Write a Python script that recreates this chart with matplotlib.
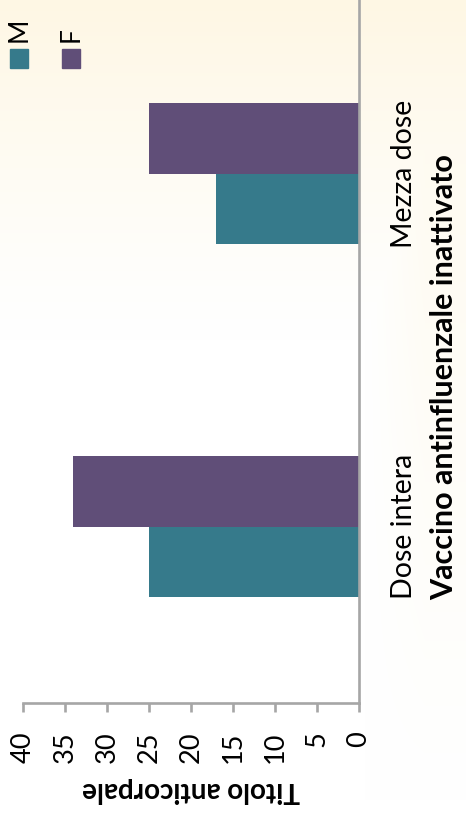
import numpy as np
import matplotlib
matplotlib.use("Agg")
import matplotlib.pyplot as plt
from matplotlib.patches import Rectangle

# Data
categories = ["Dose intera", "Mezza dose"]
series_names = ["M", "F"]
values_m = [25, 17]
values_f = [34, 25]
value_ticks = [0, 5, 10, 15, 20, 25, 30, 35, 40]
value_axis_title = "Titolo anticorpale"
category_axis_title = "Vaccino antinfluenzale inattivato"

colors = {"M": "#367a8b", "F": "#604e78"}
axis_grey = "#a6a6a6"
font = ["Lato", "DejaVu Sans"]

W, H, DPI = 466, 817, 100
fig = plt.figure(figsize=(W / DPI, H / DPI), dpi=DPI)

def fx(px):
    return px / W

def fy(py):
    return 1 - py / H

# Cream-to-white background wash
bg = fig.add_axes([0, 0, 1, 1], zorder=-10)
yy, xx = np.mgrid[0:H, 0:W]
t = np.clip(1 - yy / 340.0, 0, 1) ** 1.2
t = np.maximum(t, 0.55 * np.clip((xx - 365) / 60.0, 0, 1) * np.clip(1 - (yy - 100) / 700.0, 0, 1))
cream = np.array([254, 247, 228]) / 255.0
white = np.array([1.0, 1.0, 1.0])
img = white[None, None, :] * (1 - t[..., None]) + cream[None, None, :] * t[..., None]
bg.imshow(img, aspect="auto", extent=[0, 1, 0, 1], interpolation="bilinear")
bg.axis("off")

# Plot area: value axis runs right-to-left along the bottom, categories bottom-to-top
left_px, right_px, bottom_px, top_px = 23, 359, 703, -3
ax = fig.add_axes([fx(left_px), fy(bottom_px), fx(right_px - left_px), (bottom_px - top_px) / H])
ax.set_facecolor("none")

pos = np.arange(len(categories))
bar_h = 0.2
ax.barh(pos - bar_h / 2, values_m, height=bar_h, color=colors["M"], label=series_names[0], zorder=2)
ax.barh(pos + bar_h / 2, values_f, height=bar_h, color=colors["F"], label=series_names[1], zorder=2)

ax.set_xlim(40, 0)
ax.set_ylim(-0.5, len(categories) - 0.5)

for side in ["left", "top"]:
    ax.spines[side].set_visible(False)
for side in ["bottom", "right"]:
    ax.spines[side].set_color(axis_grey)
    ax.spines[side].set_linewidth(1.9)
    ax.spines[side].set_zorder(3)

ax.set_xticks(value_ticks)
ax.set_xticklabels([str(v) for v in value_ticks], rotation=90, family=font, fontsize=19.5)
ax.tick_params(axis="x", direction="out", length=6.5, width=1.9, color=axis_grey, pad=14)

ax.yaxis.tick_right()
ax.set_yticks(pos)
ax.set_yticklabels(categories, rotation=90, va="center", family=font, fontsize=20.5)
ax.tick_params(axis="y", length=0, pad=23)

ax.set_xlabel(value_axis_title, rotation=180, family=font, fontsize=20, fontweight="bold")
ax.xaxis.set_label_coords(0.5, (bottom_px - 790) / (bottom_px - top_px))
ax.xaxis.label.set_va("center")

ax.yaxis.set_label_position("right")
ax.set_ylabel(category_axis_title, rotation=90, family=font, fontsize=22, fontweight="bold")
ax.yaxis.set_label_coords((444 - left_px) / (right_px - left_px), (bottom_px - 377) / (bottom_px - top_px))
ax.yaxis.label.set_va("center")
ax.yaxis.label.set_ha("center")

# Legend: swatch under a rotated label, entries side by side
legend_x = [10, 62]
for name, x0 in zip(series_names, legend_x):
    fig.patches.append(Rectangle((fx(x0), fy(68)), fx(18), 19 / H,
                                 transform=fig.transFigure, color=colors[name]))
    fig.text(fx(x0 + 9), fy(42), name, rotation=90, ha="center", va="bottom",
             family=font, fontsize=19)

fig.savefig("out.png", dpi=DPI)
